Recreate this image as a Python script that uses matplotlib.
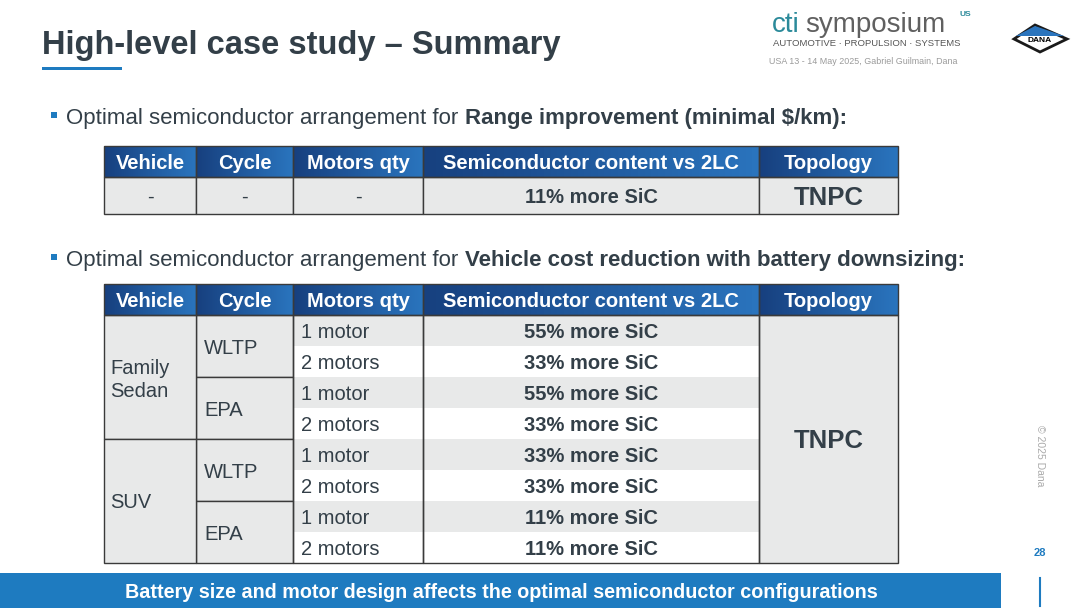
import numpy as np
import matplotlib.pyplot as plt
from matplotlib.patches import Rectangle, Polygon
from matplotlib.colors import LinearSegmentedColormap

plt.rcParams['font.family'] = ['Liberation Sans', 'DejaVu Sans']

fig = plt.figure(figsize=(10.8, 6.08), dpi=100)
ax = fig.add_axes([0, 0, 1, 1])
ax.set_xlim(0, 1080)
ax.set_ylim(608, 0)
ax.axis('off')
rend = fig.canvas.get_renderer()

dark = '#333f48'
blue = '#1e7bc0'
gray = '#e8e9e9'
grad = LinearSegmentedColormap.from_list('hdr', ['#17407f', '#2a74bd'])
VA = 'center_baseline'

# header area
ax.text(42, 42, 'High-level case study \u2013 Summary', fontsize=23.5, fontweight='bold', color=dark, va=VA)
ax.add_patch(Rectangle((42, 67), 80, 3, color=blue, lw=0))
ax.text(772, 22, 'cti', fontsize=20, color='#2b8a9a', va=VA)
ax.text(805, 22, 'symposium', fontsize=20, color='#606060', va=VA)
ax.text(959, 13, 'US', fontsize=6, color='#2b8a9a', fontweight='bold', va=VA)
ax.text(773, 43, 'AUTOMOTIVE \u00b7 PROPULSION \u00b7 SYSTEMS', fontsize=6.8, color='#555555', va=VA)
ax.text(769, 61, 'USA 13 - 14 May 2025, Gabriel Guilmain, Dana', fontsize=6.4, color='#9a9a9a', va=VA)
ax.add_patch(Polygon([(1014, 39), (1035, 25), (1067, 39), (1040, 52)], closed=True, fc='white', ec='#1a1a1a', lw=2))
ax.add_patch(Polygon([(1016, 36), (1035, 26), (1064, 36)], closed=True, fc='#2a74bd', lw=0))
ax.text(1040, 39, 'DANA', fontsize=6, fontweight='bold', ha='center', va=VA)

cols = [104, 196, 293, 423, 759, 898]
heads = ['Vehicle', 'Cycle', 'Motors qty', 'Semiconductor content vs 2LC', 'Topology']
fs = 14.5


def header(y0, y1):
    for i, h in enumerate(heads):
        ax.imshow(np.linspace(0, 1, 50).reshape(-1, 1).T, cmap=grad, aspect='auto',
                  extent=(cols[i], cols[i + 1], y1, y0), zorder=1)
        ax.add_patch(Rectangle((cols[i], y0), cols[i + 1] - cols[i], y1 - y0, fill=False, ec='#3a3a3a', lw=1, zorder=3))
        ax.text((cols[i] + cols[i + 1]) / 2, (y0 + y1) / 2, h, color='white', fontsize=fs,
                fontweight='bold', ha='center', va=VA, zorder=4)


def cell(x0, x1, y0, y1, fc, txt='', ha='center', bold=False, size=fs):
    ax.add_patch(Rectangle((x0, y0), x1 - x0, y1 - y0, fc=fc, ec='#3a3a3a', lw=1, zorder=2))
    if txt:
        x = (x0 + x1) / 2 if ha == 'center' else x0 + 8
        ax.text(x, (y0 + y1) / 2, txt, fontsize=size, fontweight='bold' if bold else 'normal',
                color=dark, ha=ha, va=VA, zorder=4)


def bullet(y, plain, strong):
    ax.add_patch(Rectangle((51, y - 4), 6, 6, color=blue, lw=0))
    t = ax.text(66, y, plain, fontsize=16, color=dark, va=VA)
    bb = t.get_window_extent(rend)
    ax.text(bb.x1 + 1, y, strong, fontsize=16, color=dark, fontweight='bold', va=VA)


# first bullet + table
bullet(116, 'Optimal semiconductor arrangement for ', 'Range improvement (minimal $/km):')
header(146, 177)
row1 = ['-', '-', '-', '11% more SiC', 'TNPC']
for i, t in enumerate(row1):
    cell(cols[i], cols[i + 1], 177, 214, gray, t, bold=(i >= 3), size=18.5 if i == 4 else fs)

# second bullet + table
bullet(258, 'Optimal semiconductor arrangement for ', 'Vehicle cost reduction with battery downsizing:')
header(284, 315)

rows = [
    ('Family\nSedan', 'WLTP', '1 motor', '55% more SiC'),
    ('Family\nSedan', 'WLTP', '2 motors', '33% more SiC'),
    ('Family\nSedan', 'EPA', '1 motor', '55% more SiC'),
    ('Family\nSedan', 'EPA', '2 motors', '33% more SiC'),
    ('SUV', 'WLTP', '1 motor', '33% more SiC'),
    ('SUV', 'WLTP', '2 motors', '33% more SiC'),
    ('SUV', 'EPA', '1 motor', '11% more SiC'),
    ('SUV', 'EPA', '2 motors', '11% more SiC'),
]
top, h = 315, 31
for k, r in enumerate(rows):
    y0 = top + k * h
    fc = gray if k % 2 == 0 else 'white'
    ax.add_patch(Rectangle((cols[2], y0), cols[4] - cols[2], h, fc=fc, lw=0, zorder=2))
    ax.text(cols[2] + 8, y0 + h / 2, r[2], fontsize=fs, color=dark, va=VA, zorder=4)
    ax.text((cols[3] + cols[4]) / 2, y0 + h / 2, r[3], fontsize=fs, color=dark, fontweight='bold',
            ha='center', va=VA, zorder=4)
for k in range(0, 8, 2):
    y0 = top + k * h
    cell(cols[1], cols[2], y0, y0 + 2 * h, gray, rows[k][1], ha='left')
for k in range(0, 8, 4):
    y0 = top + k * h
    cell(cols[0], cols[1], y0, y0 + 4 * h, gray)
ax.text(cols[0] + 6, top + 2 * h + 3, 'Family\nSedan', fontsize=fs, color=dark, va='center', linespacing=1.25, zorder=4)
ax.text(cols[0] + 6, top + 6 * h, 'SUV', fontsize=fs, color=dark, va=VA, zorder=4)
cell(cols[4], cols[5], top, top + 8 * h, gray, 'TNPC', bold=True, size=18.5)
for i in (2, 3):
    ax.add_patch(Rectangle((cols[i], top), cols[i + 1] - cols[i], 8 * h, fill=False, ec='#3a3a3a', lw=1, zorder=3))

# footer
ax.add_patch(Rectangle((0, 573), 1001, 35, color=blue, lw=0))
ax.text(501, 591, 'Battery size and motor design affects the optimal semiconductor configurations',
        fontsize=14.2, color='white', fontweight='bold', ha='center', va=VA)
ax.plot([1040, 1040], [578, 606], color=blue, lw=1.5)
ax.text(1040, 552, '28', fontsize=8, color=blue, fontweight='bold', ha='center', va=VA)
ax.text(1040, 456, '\u00a9 2025 Dana', fontsize=7.5, color='#aaaaaa', rotation=-90, ha='center', va='center')

fig.savefig('out.png', dpi=100)
